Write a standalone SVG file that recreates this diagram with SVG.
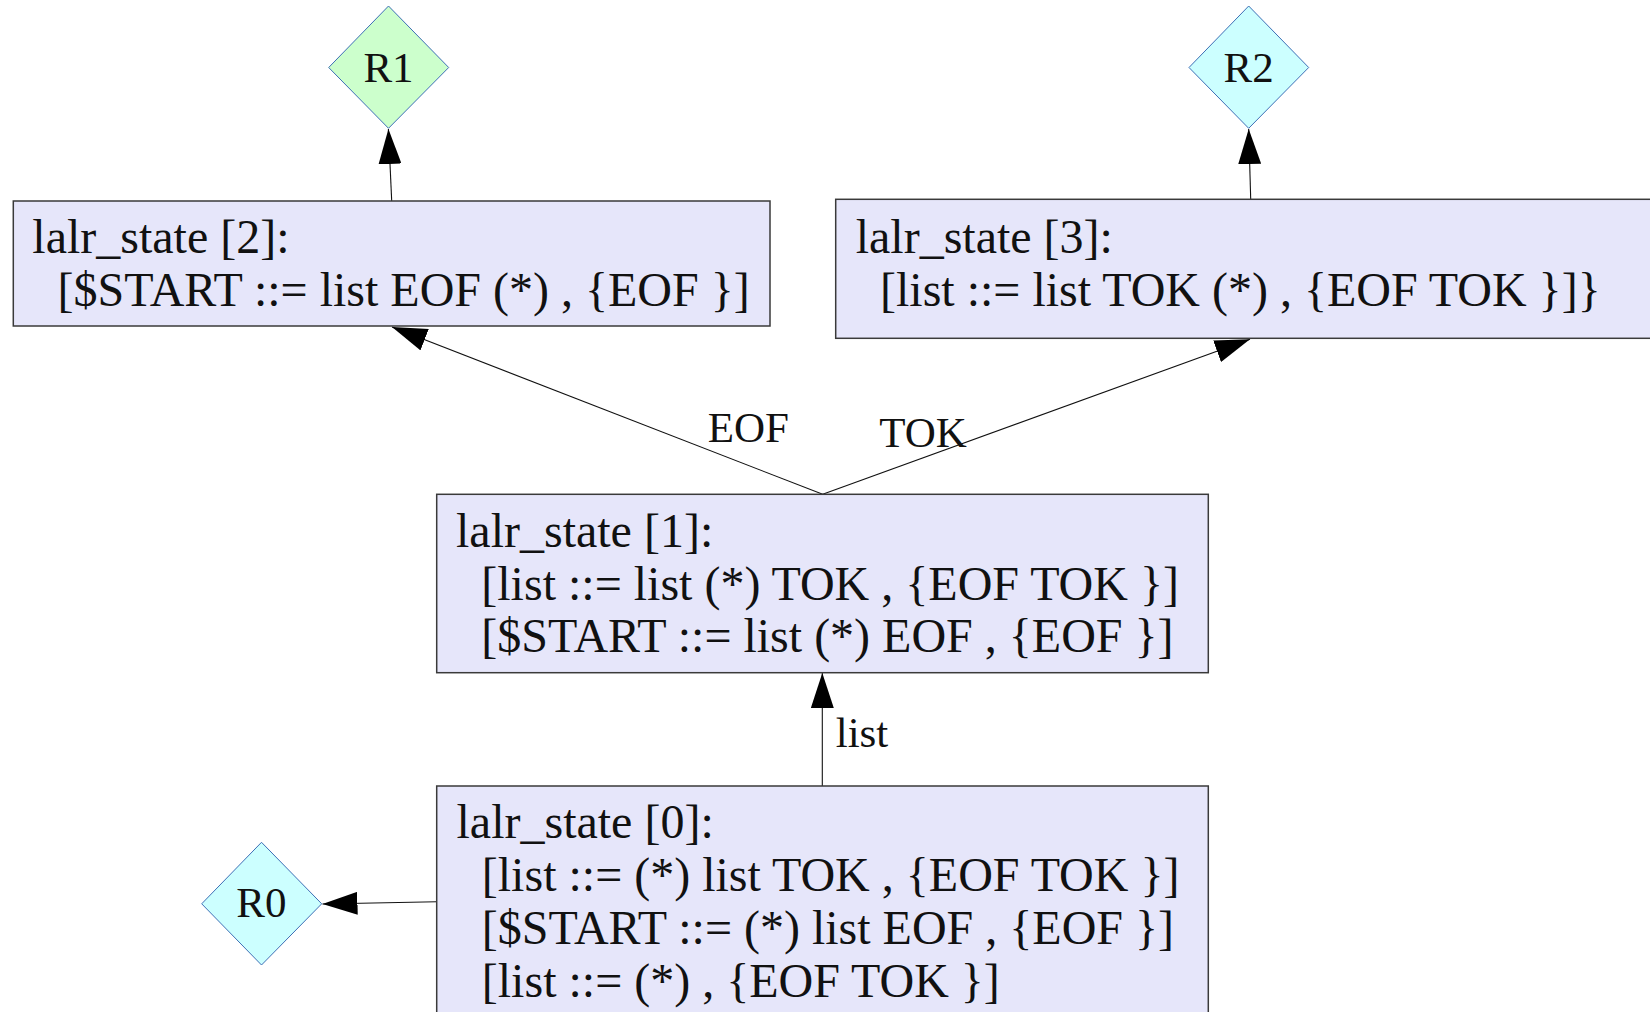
<svg xmlns="http://www.w3.org/2000/svg" width="1650" height="1012" viewBox="0 0 1650 1012">
  <style>
    .state { fill: #e6e6fa; stroke: #3a3a3a; stroke-width: 1.5; }
    .reduce { stroke: #3d6fb6; stroke-width: 1; }
    .r-green { fill: #ccffcc; }
    .r-cyan { fill: #ccffff; }
    .st { font-family: "Liberation Serif", "Times New Roman", serif; font-size: 48px; fill: #111; }
    .lbl { font-family: "Liberation Serif", "Times New Roman", serif; font-size: 43px; fill: #111; }
    .edge { fill: none; stroke: #111; stroke-width: 1.1; }
  </style>
  <defs>
    <marker id="arrow" viewBox="0 0 35 23" markerWidth="35" markerHeight="23" refX="35" refY="11.5" orient="auto" markerUnits="userSpaceOnUse">
      <path d="M0,0 L35,11.5 L0,23 Z" fill="#000"/>
    </marker>
  </defs>
  <rect width="1650" height="1012" fill="#ffffff"/>

  <g id="edges">
    <line class="edge" x1="391.7" y1="201" x2="388.4" y2="129" marker-end="url(#arrow)"/>
    <line class="edge" x1="1250.7" y1="199.3" x2="1248.7" y2="129" marker-end="url(#arrow)"/>
    <line class="edge" x1="822.7" y1="494.3" x2="392" y2="327" marker-end="url(#arrow)"/>
    <line class="edge" x1="822.7" y1="494.3" x2="1250" y2="339.3" marker-end="url(#arrow)"/>
    <line class="edge" x1="822.3" y1="786" x2="822.3" y2="673" marker-end="url(#arrow)"/>
    <line class="edge" x1="436.7" y1="901.7" x2="322.5" y2="904" marker-end="url(#arrow)"/>
    <text class="lbl" x="707.8" y="442.3">EOF</text>
    <text class="lbl" x="879.3" y="446.7">TOK</text>
    <text class="lbl" x="835.7" y="746.7">list</text>
  </g>

  <g id="R1">
    <polygon class="reduce r-green" points="388.5,6 448.7,67.5 388.5,128.3 328.7,67.5"/>
    <text class="lbl" x="388.5" y="81.7" text-anchor="middle">R1</text>
  </g>

  <g id="R2">
    <polygon class="reduce r-cyan" points="1248.7,6 1308.7,67.5 1248.7,128.3 1189,67.5"/>
    <text class="lbl" x="1248.7" y="81.7" text-anchor="middle">R2</text>
  </g>

  <g id="R0">
    <polygon class="reduce r-cyan" points="261.5,842.3 321.7,903.8 261.5,965 201.7,903.8"/>
    <text class="lbl" x="261.3" y="917.3" text-anchor="middle">R0</text>
  </g>

  <g id="state2">
    <rect class="state" x="13.3" y="201" width="756.7" height="125"/>
    <text class="st" x="32.3" y="252.5">lalr_state [2]:</text>
    <text class="st" x="57.5" y="306">[$START ::= list EOF (*) , {EOF }]</text>
  </g>

  <g id="state3">
    <rect class="state" x="835.7" y="199.3" width="830" height="139"/>
    <text class="st" x="855.7" y="252.5">lalr_state [3]:</text>
    <text class="st" x="880" y="305.5">[list ::= list TOK (*) , {EOF TOK }]}</text>
  </g>

  <g id="state1">
    <rect class="state" x="436.7" y="494.3" width="771.6" height="178.4"/>
    <text class="st" x="456" y="546.7">lalr_state [1]:</text>
    <text class="st" x="481.3" y="599.5">[list ::= list (*) TOK , {EOF TOK }]</text>
    <text class="st" x="481.3" y="652.3">[$START ::= list (*) EOF , {EOF }]</text>
  </g>

  <g id="state0">
    <rect class="state" x="436.7" y="786" width="771.6" height="240"/>
    <text class="st" x="456.5" y="837.5">lalr_state [0]:</text>
    <text class="st" x="481.8" y="890.5">[list ::= (*) list TOK , {EOF TOK }]</text>
    <text class="st" x="481.8" y="943.5">[$START ::= (*) list EOF , {EOF }]</text>
    <text class="st" x="481.8" y="996.5">[list ::= (*) , {EOF TOK }]</text>
  </g>
</svg>
